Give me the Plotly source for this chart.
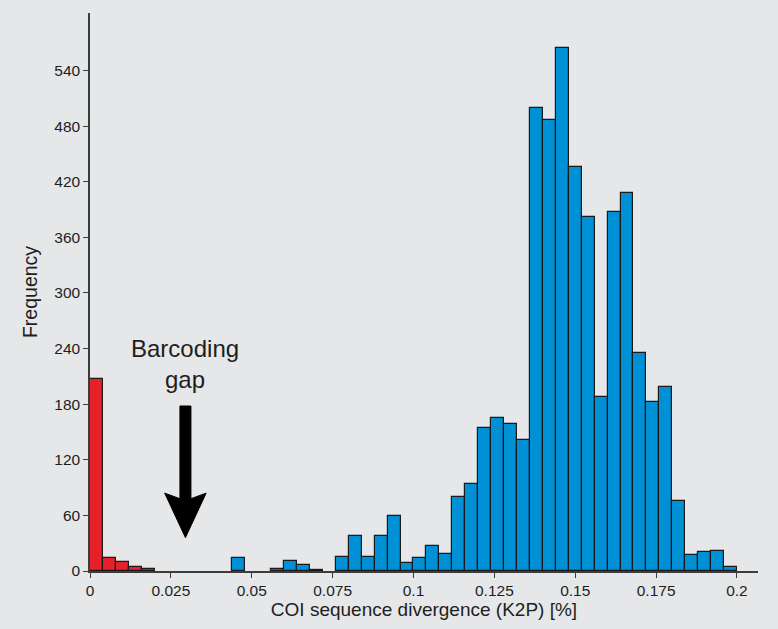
import plotly.graph_objects as go

BIN_WIDTH = 0.004

# Intraspecific distances (red)
red_bin_start = [0.000, 0.004, 0.008, 0.012, 0.016]
red_counts = [207, 14, 10, 4, 2]

# Interspecific distances (blue)
blue_bin_start = [0.044, 0.056, 0.060, 0.064, 0.068, 0.076, 0.080, 0.084, 0.088, 0.092,
                  0.096, 0.100, 0.104, 0.108, 0.112, 0.116, 0.120, 0.124, 0.128, 0.132,
                  0.136, 0.140, 0.144, 0.148, 0.152, 0.156, 0.160, 0.164, 0.168, 0.172,
                  0.176, 0.180, 0.184, 0.188, 0.192, 0.196]
blue_counts = [14, 2, 11, 7, 1, 15, 38, 15, 38, 59,
               9, 14, 27, 18, 80, 94, 154, 165, 159, 141,
               500, 487, 564, 436, 382, 188, 387, 408, 235, 182,
               198, 75, 17, 20, 22, 4]

x_tickvals = [0, 0.025, 0.05, 0.075, 0.1, 0.125, 0.15, 0.175, 0.2]
x_ticktext = ["0", "0.025", "0.05", "0.075", "0.1", "0.125", "0.15", "0.175", "0.2"]
y_tickvals = [0, 60, 120, 180, 240, 300, 360, 420, 480, 540]

BG = "#e6e7e9"
AXIS = "#3c3c3c"
TXT = "#1e1e1e"
FONT = "Liberation Sans, Arial, sans-serif"

fig = go.Figure()
fig.add_trace(go.Bar(
    x=red_bin_start, y=red_counts, width=[BIN_WIDTH] * len(red_counts), offset=0,
    marker=dict(color="#e8202a", line=dict(color="#1a1a1a", width=1.2)),
    name="intraspecific", showlegend=False))
fig.add_trace(go.Bar(
    x=blue_bin_start, y=blue_counts, width=[BIN_WIDTH] * len(blue_counts), offset=0,
    marker=dict(color="#0090d6", line=dict(color="#1a1a1a", width=1.2)),
    name="interspecific", showlegend=False))

# Barcoding gap arrow (decorative)
cx = 0.0295
sw = 0.0017
hw = 0.0064
path = (f"M {cx-sw},178 L {cx+sw},178 L {cx+sw},78 L {cx+hw},84 L {cx},36 "
        f"L {cx-hw},84 L {cx-sw},78 Z")
fig.add_shape(type="path", path=path, xref="x", yref="y",
              fillcolor="black", line=dict(color="black", width=1))

fig.add_annotation(x=cx, y=190, xref="x", yref="y", text="Barcoding<br>gap",
                   showarrow=False, yanchor="bottom",
                   font=dict(family=FONT, size=24, color=TXT))

fig.update_layout(
    width=778, height=629,
    paper_bgcolor=BG, plot_bgcolor=BG,
    margin=dict(l=90, r=20, t=13, b=58),
    bargap=0,
    font=dict(family=FONT, color=TXT),
    xaxis=dict(range=[0, 0.2065], tickvals=x_tickvals, ticktext=x_ticktext,
               showgrid=False, zeroline=False, showline=True, linecolor=AXIS, linewidth=1.5,
               ticks="outside", ticklen=5, tickcolor=AXIS, tickwidth=1,
               tickfont=dict(size=15.5, color=TXT),
               title=dict(text="COI sequence divergence (K2P) [%]",
                          font=dict(size=19, color=TXT), standoff=4)),
    yaxis=dict(range=[0, 602], tickvals=y_tickvals,
               showgrid=False, zeroline=False, showline=True, linecolor=AXIS, linewidth=1.5,
               ticks="outside", ticklen=5, tickcolor=AXIS, tickwidth=1,
               tickfont=dict(size=15.5, color=TXT),
               title=dict(text="Frequency", font=dict(size=19.5, color=TXT), standoff=11)),
)

fig.write_html("out.html", config={"displayModeBar": False},
               post_script="document.body.style.margin='0px';")
